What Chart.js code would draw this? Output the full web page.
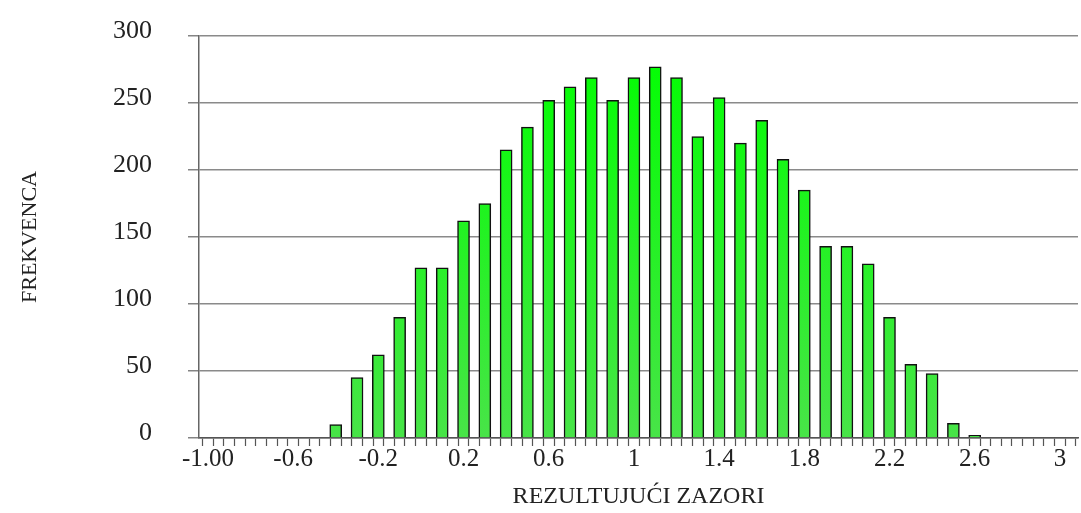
<!DOCTYPE html>
<html>
<head>
<meta charset="utf-8">
<script src="https://cdn.jsdelivr.net/npm/chart.js@4/dist/chart.umd.min.js"></script>
<style>
  html, body { margin: 0; padding: 0; background: #fff; }
  #wrap { width: 1081px; height: 513px; position: relative; }
</style>
</head>
<body>
<div id="wrap"><canvas id="c" width="1081" height="513"></canvas></div>
<script>
// ---- data ----
const binCenters = [-0.4, -0.3, -0.2, -0.1, 0.0, 0.1, 0.2, 0.3, 0.4, 0.5, 0.6, 0.7, 0.8, 0.9, 1.0,
  1.1, 1.2, 1.3, 1.4, 1.5, 1.6, 1.7, 1.8, 1.9, 2.0, 2.1, 2.2, 2.3, 2.4, 2.5, 2.6];
const frequencies = [10, 45, 62, 90, 127, 127, 162, 175, 215, 232, 252, 262, 269, 252, 269,
  277, 269, 225, 254, 220, 237, 208, 185, 143, 143, 130, 90, 55, 48, 11, 2];
const xTickValues = [-1.0, -0.6, -0.2, 0.2, 0.6, 1.0, 1.4, 1.8, 2.2, 2.6, 3.0];
const xTickLabels = ['-1.00', '-0.6', '-0.2', '0.2', '0.6', '1', '1.4', '1.8', '2.2', '2.6', '3'];
const xMinorStep = 0.05;
const yTickValues = [0, 50, 100, 150, 200, 250, 300];
const xTitle = 'REZULTUJUĆI ZAZORI';
const yTitle = 'FREKVENCA';

const points = binCenters.map((x, i) => ({ x: x, y: frequencies[i] }));

function barFill(ctx) {
  const chart = ctx.chart;
  const area = chart.chartArea;
  if (!area) return '#20ee20';
  const g = chart.ctx.createLinearGradient(0, area.top, 0, area.bottom);
  g.addColorStop(0, '#00ff00');
  g.addColorStop(1, '#48e448');
  return g;
}

const serif = "'Liberation Serif', 'DejaVu Serif', serif";

new Chart(document.getElementById('c'), {
  type: 'bar',
  data: {
    datasets: [{
      data: points,
      backgroundColor: barFill,
      borderColor: '#111',
      borderWidth: 1.5,
      barThickness: 12
    }]
  },
  options: {
    responsive: false,
    animation: false,
    layout: { padding: { top: 36, right: 3, bottom: 0, left: 0 } },
    plugins: { legend: { display: false }, tooltip: { enabled: false } },
    scales: {
      x: {
        type: 'linear',
        offset: false,
        min: -1.042,
        max: 3.085,
        afterBuildTicks: (scale) => {
          const ticks = [];
          const n = Math.round((3.05 - (-1.0)) / xMinorStep);
          for (let i = 0; i <= n; i++) {
            ticks.push({ value: Math.round((-1.0 + i * xMinorStep) * 1000) / 1000 });
          }
          scale.ticks = ticks;
        },
        afterFit: (scale) => { scale.height = 75; scale.paddingLeft = 0; scale.paddingRight = 0; },
        ticks: {
          autoSkip: false,
          maxRotation: 0,
          padding: -2,
          color: '#222',
          font: { family: serif, size: 25 },
          callback: (value) => {
            const i = xTickValues.findIndex(v => Math.abs(v - value) < 1e-6);
            return i >= 0 ? xTickLabels[i] : '';
          }
        },
        grid: {
          drawOnChartArea: false,
          drawTicks: true,
          tickLength: 8,
          tickColor: '#555',
          tickWidth: 1.2
        },
        border: { display: true, color: '#555', width: 1.5 },
        title: {
          display: true,
          text: xTitle,
          color: '#222',
          font: { family: serif, size: 24 },
          padding: { top: 0, bottom: 2 }
        }
      },
      y: {
        min: 0,
        max: 300,
        afterBuildTicks: (scale) => {
          scale.ticks = yTickValues.map(v => ({ value: v }));
        },
        afterFit: (scale) => { scale.width = 199; scale.paddingTop = 0; scale.paddingBottom = 0; },
        ticks: {
          padding: 36,
          labelOffset: -5,
          color: '#222',
          font: { family: serif, size: 26 }
        },
        grid: {
          color: '#8a8a8a',
          lineWidth: 1.6,
          tickLength: 11,
          tickColor: '#666',
          tickWidth: 1.2
        },
        border: { display: true, color: '#666', width: 1.5 },
        title: {
          display: true,
          text: yTitle,
          color: '#222',
          font: { family: serif, size: 22 },
          padding: { top: 17, bottom: 0 }
        }
      }
    }
  }
});
</script>
</body>
</html>
